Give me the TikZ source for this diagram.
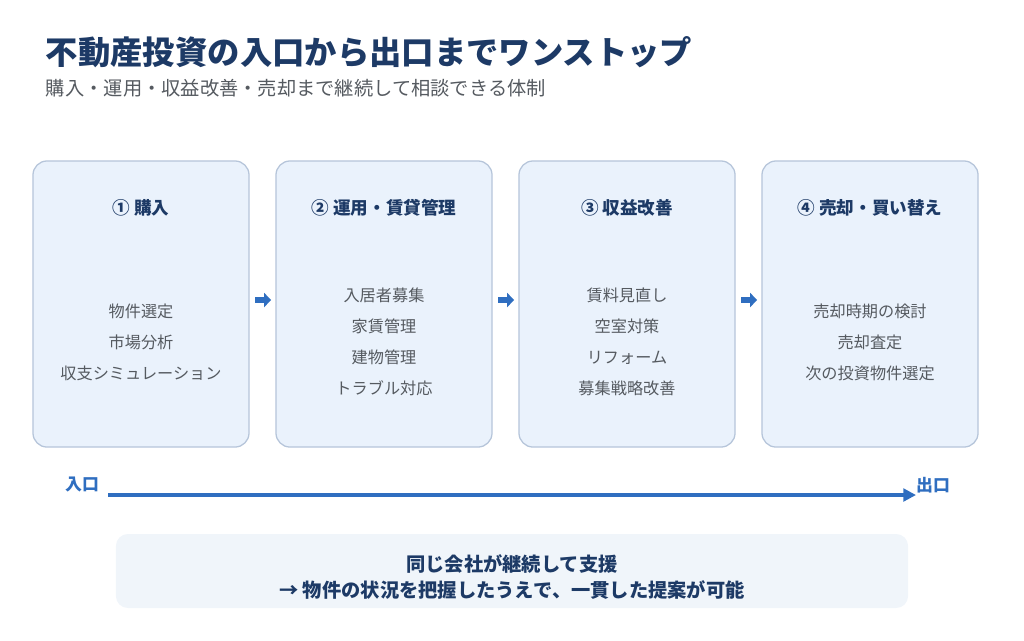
\documentclass[tikz,border=0pt]{standalone}
\usepackage{fontspec}
\setmainfont{Noto Sans CJK JP}
\usepackage{xcolor}
\usetikzlibrary{arrows.meta}
\definecolor{navy}{HTML}{1D3A66}
\definecolor{textgray}{HTML}{555A60}
\definecolor{flowblue}{HTML}{2F6EC0}
\definecolor{boxfill}{HTML}{EAF2FC}
\definecolor{boxline}{HTML}{B6C5DA}
\definecolor{notefill}{HTML}{F0F5FA}
\begin{document}
\begin{tikzpicture}[>={Triangle[length=5pt,width=10pt]},x=0.025cm,y=-0.025cm]
      \tikzset{stage/.style={draw=boxline, line width=0.9pt, fill=boxfill, rounded corners=0.35cm, minimum width=5.4cm, minimum height=7.15cm},
        head/.style={font=\fontsize{12.5}{15}\selectfont\bfseries, text=navy},
        items/.style={font=\fontsize{11.5}{22}\selectfont, text=textgray, align=center},
        link/.style={->, draw=flowblue, fill=flowblue, line width=4.5pt, shorten <=4pt, shorten >=3pt}}
      \useasboundingbox (0,0) rectangle (1024,640);
      \node[anchor=west, font=\fontsize{23}{27}\selectfont\bfseries, text=navy] (title) at (41,52) {不動産投資の入口から出口までワンストップ};
      \node[anchor=west, font=\fontsize{13.7}{16}\selectfont, text=textgray] (sub) at (41,88) {購入・運用・収益改善・売却まで継続して相談できる体制};
      \node[stage] (buy) at (141,304) {};
      \node[stage] (run) at (384,304) {};
      \node[stage] (imp) at (627,304) {};
      \node[stage] (sell) at (870,304) {};
      \node[head] (buyh) at (141,208) {① 購入};
      \node[head] (runh) at (384,208) {② 運用・賃貸管理};
      \node[head] (imph) at (627,208) {③ 収益改善};
      \node[head] (sellh) at (870,208) {④ 売却・買い替え};
      \node[items] (buyi) at (141,342) {物件選定\\市場分析\\収支シミュレーション};
      \node[items] (runi) at (384,342) {入居者募集\\家賃管理\\建物管理\\トラブル対応};
      \node[items] (impi) at (627,342) {賃料見直し\\空室対策\\リフォーム\\募集戦略改善};
      \node[items] (selli) at (870,342) {売却時期の検討\\売却査定\\次の投資物件選定};
      \draw[link] (buy.east |- 0,300) -- (run.west |- 0,300);
      \draw[link] (run.east |- 0,300) -- (imp.west |- 0,300);
      \draw[link] (imp.east |- 0,300) -- (sell.west |- 0,300);
      % entrance to exit
      \node[font=\fontsize{12}{14}\selectfont\bfseries, text=flowblue] (in) at (82,485) {入口};
      \node[font=\fontsize{12}{14}\selectfont\bfseries, text=flowblue] (out) at (933,485) {出口};
      \coordinate (start) at (108,495);
      \coordinate (end) at (916,495);
      \draw[-{Triangle[length=9pt,width=9pt]}, draw=flowblue, fill=flowblue, line width=2.8pt] (start) -- (end);
      \node[fill=notefill, rounded corners=0.3cm, minimum width=19.8cm, minimum height=1.85cm] (note) at (512,571) {};
      \node[font=\fontsize{13.7}{17.8}\selectfont\bfseries, text=navy, align=center] (notet) at (512,577) {同じ会社が継続して支援\\→ 物件の状況を把握したうえで、一貫した提案が可能};
    \end{tikzpicture}
\end{document}
